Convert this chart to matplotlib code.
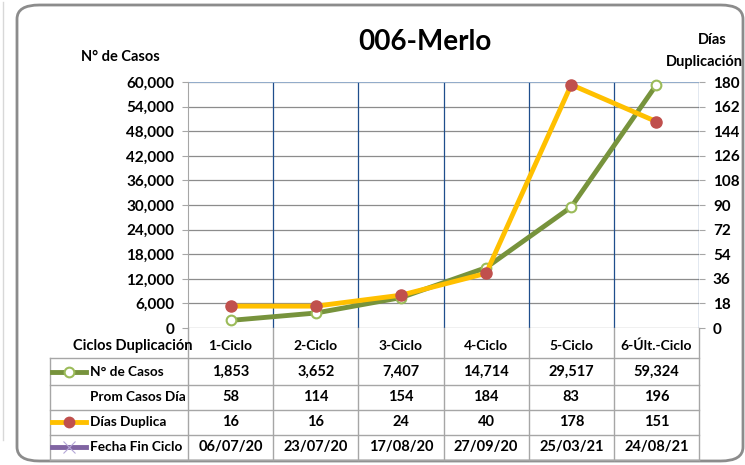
import matplotlib
matplotlib.use("Agg")
import matplotlib.pyplot as plt
from matplotlib.lines import Line2D
from matplotlib.patches import FancyBboxPatch
import matplotlib.transforms as mtransforms

plt.rcParams['font.family'] = ['Lato', 'DejaVu Sans']
plt.rcParams['font.weight'] = 'bold'

title = "006-Merlo"
categories = ["1-Ciclo", "2-Ciclo", "3-Ciclo", "4-Ciclo", "5-Ciclo", "6-Últ.-Ciclo"]
casos = [1853, 3652, 7407, 14714, 29517, 59324]
prom_casos_dia = [58, 114, 154, 184, 83, 196]
dias_duplica = [16, 16, 24, 40, 178, 151]
fecha_fin = ["06/07/20", "23/07/20", "17/08/20", "27/09/20", "25/03/21", "24/08/21"]
left_ticks = list(range(0, 60001, 6000))
right_ticks = list(range(0, 181, 18))

W, H = 745, 465
def fx(x): return x / W
def fy(y): return 1 - y / H

GREEN = "#77933C"
GREEN_M = "#9BBB59"
ORANGE = "#FFC000"
RED = "#C0504D"
PURPLE = "#8064A2"
GRID = "#A6A6A6"
VGRID = "#1F4E8C"
FS = 10.5

fig = plt.figure(figsize=(7.45, 4.65), dpi=100)
fig.patch.set_facecolor("white")
# outer frame
frame = FancyBboxPatch((fx(17), fy(461)), fx(743) - fx(17), fy(5) - fy(461),
                       boxstyle="round,pad=0,rounding_size=0.03",
                       transform=fig.transFigure, facecolor="none",
                       edgecolor="#8C8C8C", linewidth=2.0, zorder=-5)
fig.patches.append(frame)
fig.add_artist(Line2D([fx(3), fx(3)], [fy(2), fy(440)], color="#D8D8D8", lw=1,
                      transform=fig.transFigure))

ax = fig.add_axes([fx(188), fy(328), fx(699) - fx(188), fy(82) - fy(328)])
ax.set_facecolor("none")
n = len(categories)
xs = [i + 0.5 for i in range(n)]
ax.set_xlim(0, n)
ax.set_ylim(0, 60000)
ax.set_yticks(left_ticks)
ax.set_yticklabels([f"{v:,}" for v in left_ticks], fontsize=FS + 0.5, fontweight='bold')
ax.set_xticks(range(n + 1))
ax.set_xticklabels([])
ax.tick_params(axis='x', length=0)
ax.tick_params(axis='y', length=4, color=GRID, pad=6)
for s in ["top", "right", "bottom"]:
    ax.spines[s].set_visible(False)
ax.spines["left"].set_color(GRID)
ax.grid(axis='y', color="#8C8C8C", lw=0.9)
for i in range(1, n + 1):
    ax.axvline(i, color=VGRID, lw=0.9)
ax.axhline(60000, color="#95B3D7", lw=1.2)

ax2 = ax.twinx()
ax2.set_ylim(0, 180)
ax2.set_yticks(right_ticks)
ax2.set_yticklabels([str(v) for v in right_ticks], fontsize=FS + 0.5, fontweight='bold')
ax2.tick_params(axis='y', length=4, color=GRID, pad=6)
for s in ["top", "left", "bottom", "right"]:
    ax2.spines[s].set_visible(False)

ax.plot(xs, casos, color=GREEN, lw=3.5, marker='o', ms=7, mfc='white',
        mec=GREEN_M, mew=1.5, zorder=5, clip_on=False)
ax2.plot(xs, dias_duplica, color=ORANGE, lw=3.5, marker='o', ms=8, mfc=RED,
         mec=RED, zorder=6, clip_on=False)

fig.text(fx(425), fy(42), title, ha='center', va='center', fontsize=20, fontweight='bold')
fig.text(fx(120), fy(57), "N° de Casos", ha='center', va='center', fontsize=FS, fontweight='bold')
fig.text(fx(712), fy(40), "Días", ha='center', va='center', fontsize=FS, fontweight='bold')
fig.text(fx(743), fy(62), "Duplicación", ha='right', va='center', fontsize=FS, fontweight='bold')

# data table
trans = mtransforms.blended_transform_factory(ax.transData, fig.transFigure)
row_lines = [358, 385, 410, 435, 460]
tbl_left = 50
for y in row_lines:
    fig.add_artist(Line2D([fx(tbl_left), fx(699)], [fy(y), fy(y)], color=GRID, lw=1,
                          transform=fig.transFigure))
fig.add_artist(Line2D([fx(tbl_left), fx(tbl_left)], [fy(358), fy(460)], color=GRID, lw=1,
                      transform=fig.transFigure))
for i in range(n + 1):
    ax.add_artist(Line2D([i, i], [fy(328), fy(460)], color=GRID, lw=1,
                         transform=trans, clip_on=False))

hdr_y = fy(346)
fig.text(fx(133), hdr_y, "Ciclos Duplicación", ha='center', va='center', fontsize=FS, fontweight='bold')
rows = [
    ("N° de Casos", [f"{v:,}" for v in casos], (GREEN, 'o', 'white', GREEN_M)),
    ("Prom Casos Día", [str(v) for v in prom_casos_dia], None),
    ("Días Duplica", [str(v) for v in dias_duplica], (ORANGE, 'o', RED, RED)),
    ("Fecha Fin Ciclo", fecha_fin, (PURPLE, 'x', "#B4A7D6", "#B4A7D6")),
]
row_centers = [372, 397, 422, 447]
for i, c in enumerate(categories):
    ax.text(xs[i], hdr_y, c, transform=trans, ha='center', va='center', fontsize=FS - 0.5,
            fontweight='bold', clip_on=False)
for (label, vals, leg), yc in zip(rows, row_centers):
    fig.text(fx(90), fy(yc), label, ha='left', va='center', fontsize=FS - 0.7, fontweight='bold')
    if leg is not None:
        col, mk, mfc, mec = leg
        fig.add_artist(Line2D([fx(52), fx(69), fx(86)], [fy(yc)] * 3, color=col, lw=3.5,
                              marker=mk, markevery=[1], ms=7 if mk == 'o' else 8,
                              mfc=mfc, mec=mec, mew=1.5 if mk != 'x' else 0.8,
                              transform=fig.transFigure))
    for i, v in enumerate(vals):
        ax.text(xs[i], fy(yc), v, transform=trans, ha='center', va='center', fontsize=FS,
                fontweight='bold', clip_on=False)

fig.savefig("out.png", dpi=100)
